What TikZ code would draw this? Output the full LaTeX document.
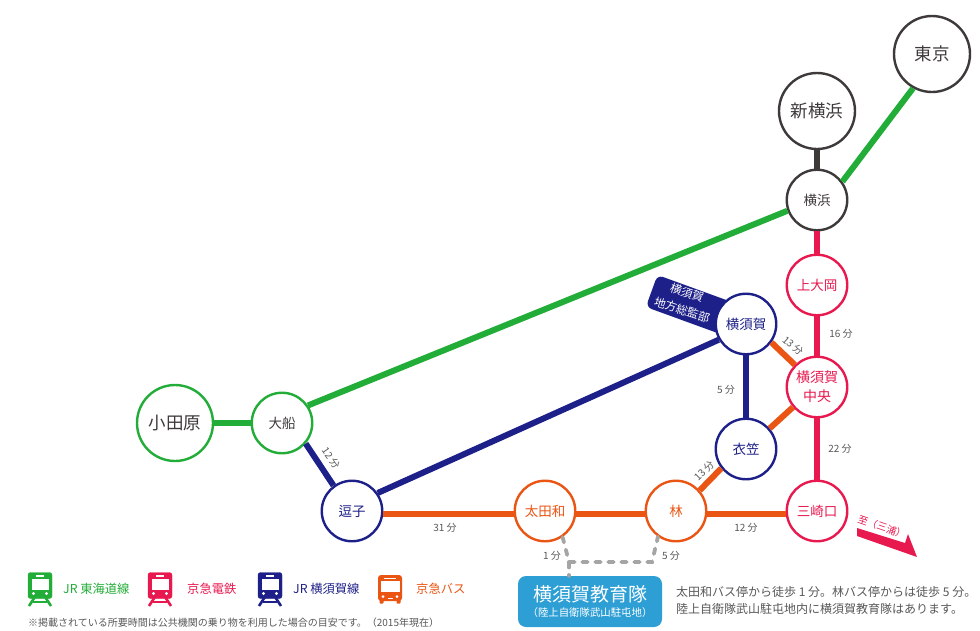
\documentclass[tikz,border=0pt]{standalone}
\usepackage{fontspec}
\setmainfont{Noto Sans CJK JP}
\definecolor{jrg}{HTML}{22AC38}
\definecolor{kq}{HTML}{E8194F}
\definecolor{jrn}{HTML}{1D2088}
\definecolor{bus}{HTML}{EA5514}
\definecolor{ink}{HTML}{3E3A39}
\definecolor{mut}{HTML}{595757}
\definecolor{sky}{HTML}{2D9FD5}
\definecolor{walk}{HTML}{A5A5A5}
\newcommand{\fs}[1]{\fontsize{#1}{#1}\selectfont}
\tikzset{
  stn/.style={circle,draw=#1,fill=white,line width=2.4pt,minimum size=60.5pt,inner sep=0pt,align=center,text=#1,font=\fs{13.5}},
  big/.style={circle,draw=#1,fill=white,line width=2.4pt,minimum size=76pt,inner sep=0pt,align=center,text=ink,font=\fs{17.5}},
  lnk/.style={line width=6pt},
  mins/.style={text=mut,font=\fs{10},inner sep=0pt},
  legend/.style={font=\fs{12.3},inner sep=0pt,anchor=west},
  walkline/.style={walk,line width=3.8pt,line cap=round,dash pattern=on 5.5pt off 7.5pt},
  train/.pic={
    \fill[pic actions,rounded corners=2.5pt] (-12,-17) rectangle (12,9);
    \fill[white] (-8.5,-11) rectangle (8.5,0);
    \fill[white] (-4,-14.2) rectangle (4,-13);
    \fill[white] (-6.5,4) circle (1.6) (6.5,4) circle (1.6);
    \draw[pic actions,line width=2.6pt] (-5.5,8) -- (-11,16.5);
    \draw[pic actions,line width=2.6pt] (5.5,8) -- (11,16.5);
    \draw[pic actions,line width=2pt] (-7,12.2) -- (7,12.2);
  },
  buspic/.pic={
    \fill[pic actions,rounded corners=3pt] (-12,-14) rectangle (12,12);
    \fill[white] (-9.5,-8) rectangle (9.5,2.5);
    \fill[white] (-6,-11.5) rectangle (6,-10.3);
    \fill[white] (-7,7.5) circle (1.5) (7,7.5) circle (1.5);
    \fill[white] (-2.5,8.5) rectangle (2.5,10);
    \fill[pic actions,rounded corners=1pt] (-10.5,10) rectangle (-6.5,14.5);
    \fill[pic actions,rounded corners=1pt] (6.5,10) rectangle (10.5,14.5);
  }
}
\begin{document}
\begin{tikzpicture}[x=1pt,y=-1pt]
\useasboundingbox (0,0) rectangle (980,630);

% tag lies under the Yokosuka station
\node[fill=jrn,rounded corners=6pt,rotate=-20,minimum width=88pt,minimum height=34pt,inner sep=0pt] (tag) at (693,306) {};
\node[text=white,rotate=-18,inner sep=0pt,font=\fs{11.5}] (tagA) at (687,293) {横須賀};
\node[text=white,rotate=-18,inner sep=0pt,font=\fs{11.5}] (tagB) at (682,310) {地方総監部};

\node[big=ink] (tokyo) at (932,54) {東京};
\node[big=ink] (shinyoko) at (817,111) {新横浜};
\node[stn=ink] (yokohama) at (817,200) {横浜};
\node[stn=kq] (kamiooka) at (817,285) {上大岡};
\node[stn=kq,font=\fs{14}] (chuo) at (817,387) {横須賀\\[5pt]中央};
\node[stn=kq] (misaki) at (817,511) {三崎口};
\node[stn=jrn] (yokosuka) at (746,324) {横須賀};
\node[stn=jrn] (kinugasa) at (746,449) {衣笠};
\node[stn=bus] (hayashi) at (676,511) {林};
\node[stn=bus] (otawa) at (545,511) {太田和};
\node[stn=jrn] (zushi) at (352,511) {逗子};
\node[stn=jrg,text=ink] (ofuna) at (282,423) {大船};
\node[big=jrg] (odawara) at (175,423) {小田原};

\draw[jrg,lnk] (tokyo.-119) -- (yokohama.36);
\draw[jrg,lnk] (yokohama.200) -- (ofuna.34);
\draw[jrg,lnk] (ofuna) -- (odawara);
\draw[ink,lnk] (shinyoko) -- (yokohama);
\draw[kq,lnk] (yokohama) -- (kamiooka);
\draw[kq,lnk] (kamiooka) -- (chuo);
\draw[kq,lnk] (chuo) -- (misaki);
\draw[jrn,lnk] (yokosuka.210) -- (zushi.35);
\draw[jrn,lnk] (yokosuka) -- (kinugasa);
\draw[jrn,lnk] (ofuna.-41) -- (zushi.126);
\draw[bus,lnk] (yokosuka.-36) -- (chuo.135);
\draw[bus,lnk] (chuo.-140) -- (kinugasa.41);
\draw[bus,lnk] (kinugasa.-142) -- (hayashi.41);
\draw[bus,lnk] (zushi.-5) -- (otawa.185);
\draw[bus,lnk] (otawa.-5) -- (hayashi.185);
\draw[bus,lnk] (hayashi.-5) -- (misaki.185);

% minutes
\node[mins,rotate=-55] (m1) at (331,458) {12 分};
\node[mins,rotate=-40] (m2) at (793,346) {13 分};
\node[mins,rotate=45] (m3) at (704,471) {13 分};
\node[mins] (m4) at (841,334) {16 分};
\node[mins] (m5) at (726,390) {5 分};
\node[mins] (m6) at (840,449) {22 分};
\node[mins] (m7) at (445,528) {31 分};
\node[mins] (m8) at (746,528) {12 分};
\node[mins] (m9) at (552,556) {1 分};
\node[mins] (m10) at (671,556) {5 分};

% education unit and the walking route
\node[fill=sky,rounded corners=8pt,minimum width=144pt,minimum height=51pt,inner sep=0pt] (edu) at (590,601.5) {};
\node[text=white,inner sep=0pt,font=\fs{19}] (eduA) at (590,594) {横須賀教育隊};
\node[text=white,inner sep=0pt,font=\fs{10.4}] (eduB) at (590,613) {（陸上自衛隊武山駐屯地）};
\coordinate (w1) at (569,562);
\coordinate (w2) at (652,562);
\draw[walkline] (otawa.-56) -- (w1) -- (w2) -- (hayashi.-125);
\draw[walkline] (w1) -- (edu.north -| w1);

\node[text=mut,inner sep=0pt,anchor=west,font=\fs{12}] (noteA) at (676,592) {太田和バス停から徒歩 1 分。林バス停からは徒歩 5 分。};
\node[text=mut,inner sep=0pt,anchor=west,font=\fs{12}] (noteB) at (676,609) {陸上自衛隊武山駐屯地内に横須賀教育隊はあります。};

% toward Miura
\fill[kq] (857,528) -- (905,543) -- (908,534) -- (917,557) -- (857,536) -- cycle;
\node[text=kq,rotate=-19,inner sep=0pt,font=\fs{10}] (miura) at (882,527) {至（三浦）};

% legend
\pic[fill=jrg,draw=jrg] at (40,589.5) {train};
\pic[fill=kq,draw=kq] at (160,589.5) {train};
\pic[fill=jrn,draw=jrn] at (270,589.5) {train};
\pic[fill=bus,draw=none] at (390,589) {buspic};
\node[legend,text=jrg] (lgA) at (63,589) {JR 東海道線};
\node[legend,text=kq] (lgB) at (187,589) {京急電鉄};
\node[legend,text=jrn] (lgC) at (293,589) {JR 横須賀線};
\node[legend,text=bus] (lgD) at (416,589) {京急バス};
\node[text=mut,inner sep=0pt,anchor=west,font=\fs{10}] (foot) at (28,623) {※掲載されている所要時間は公共機関の乗り物を利用した場合の目安です。（2015年現在）};
\end{tikzpicture}
\end{document}
